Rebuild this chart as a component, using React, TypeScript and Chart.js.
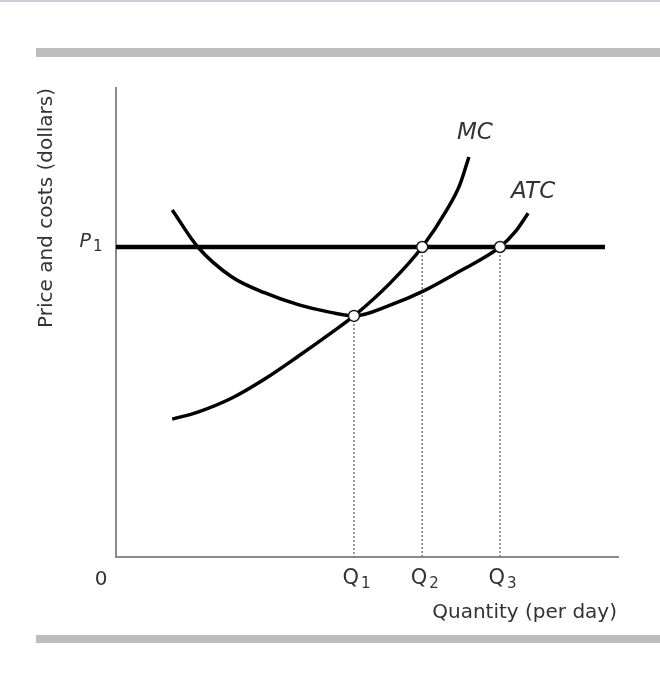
import React, { useEffect, useRef } from "react";
import { Chart, registerables } from "chart.js";

Chart.register(...registerables);

// ---- Data ----
const mcQuantity = [11.2, 16.3, 23.1, 29.7, 36.3, 43.0, 47.4, 54.6, 61.0, 65.9, 68.5, 70.3];
const mcCost = [29.4, 30.9, 33.9, 38.0, 42.8, 47.9, 51.4, 58.4, 66.1, 74.0, 79.4, 85.3];

const atcQuantity = [11.2, 16.3, 23.1, 29.7, 36.3, 43.0, 47.4, 54.6, 61.2, 67.9, 76.5, 79.5, 82.1];
const atcCost = [74.0, 66.1, 59.7, 56.3, 53.8, 52.1, 51.4, 53.7, 56.7, 60.6, 66.1, 69.3, 73.3];

const priceP1 = 66.1;
const priceLineQuantity = [0, 97.4];

const markerNames = ["Q", "Q", "Q"];
const markerSubs = ["1", "2", "3"];
const markerQuantity = [47.4, 61.0, 76.5];
const markerCost = [51.4, 66.1, 66.1];

const xTitle = "Quantity (per day)";
const yTitle = "Price and costs (dollars)";
const originLabel = "0";
const priceLabel = "P";
const priceSub = "1";
const mcLabel = "MC";
const atcLabel = "ATC";

const FONT = '"DejaVu Sans", sans-serif';
const TEXT = "#333333";

const pts = (xs: number[], ys: number[]) => xs.map((x, i) => ({ x, y: ys[i] }));

const decorPlugin = {
  id: "decor",
  beforeDraw(chart: any) {
    const { ctx, width, height } = chart;
    ctx.save();
    ctx.fillStyle = "#ffffff";
    ctx.fillRect(0, 0, width, height);
    ctx.fillStyle = "#cbcfda";
    ctx.fillRect(0, 0, width, 2);
    ctx.fillStyle = "#bdbdbd";
    ctx.fillRect(36, 48, width - 36, 9);
    ctx.fillRect(36, 635, width - 36, 8);
    ctx.restore();
  },
  afterDraw(chart: any) {
    const { ctx, chartArea } = chart;
    const xs = chart.scales.x;
    const ys = chart.scales.y;
    ctx.save();
    ctx.fillStyle = TEXT;

    // y axis title (rotated)
    ctx.save();
    ctx.translate(47, chartArea.top);
    ctx.rotate(-Math.PI / 2);
    ctx.font = `20px ${FONT}`;
    ctx.textAlign = "right";
    ctx.textBaseline = "middle";
    ctx.fillText(yTitle, 0, 0);
    ctx.restore();

    // x axis title
    ctx.font = `20px ${FONT}`;
    ctx.textAlign = "right";
    ctx.textBaseline = "middle";
    ctx.fillText(xTitle, chartArea.right - 1, 613);

    // origin
    ctx.textAlign = "center";
    ctx.font = `20px ${FONT}`;
    ctx.fillText(originLabel, chartArea.left - 15, 580);

    // Q labels
    markerQuantity.forEach((q, i) => {
      const px = xs.getPixelForValue(q);
      ctx.font = `21px ${FONT}`;
      ctx.textAlign = "right";
      ctx.textBaseline = "middle";
      ctx.fillText(markerNames[i], px + 5, 579);
      ctx.font = `15px ${FONT}`;
      ctx.textAlign = "left";
      ctx.fillText(markerSubs[i], px + 7, 584);
    });

    // P1 label
    const py = ys.getPixelForValue(priceP1);
    ctx.font = `italic 19px ${FONT}`;
    ctx.textAlign = "right";
    ctx.textBaseline = "middle";
    ctx.fillText(priceLabel, chartArea.left - 25, py - 5);
    ctx.font = `15px ${FONT}`;
    ctx.textAlign = "left";
    ctx.fillText(priceSub, chartArea.left - 23, py);

    // curve labels
    const mcEndX = xs.getPixelForValue(mcQuantity[mcQuantity.length - 1]);
    const mcEndY = ys.getPixelForValue(mcCost[mcCost.length - 1]);
    ctx.font = `italic 23px ${FONT}`;
    ctx.textAlign = "center";
    ctx.textBaseline = "middle";
    ctx.fillText(mcLabel, mcEndX + 6, mcEndY - 24);

    const atcEndX = xs.getPixelForValue(atcQuantity[atcQuantity.length - 1]);
    const atcEndY = ys.getPixelForValue(atcCost[atcCost.length - 1]);
    ctx.fillText(atcLabel, atcEndX + 5, atcEndY - 21);

    ctx.restore();
  },
};

export default function App() {
  const canvasRef = useRef<HTMLCanvasElement | null>(null);

  useEffect(() => {
    const canvas = canvasRef.current;
    if (!canvas) return;

    const dropLines = markerQuantity.map((q, i) => ({
      type: "line" as const,
      data: [
        { x: q, y: markerCost[i] },
        { x: q, y: 0 },
      ],
      borderColor: "#7a7a7a",
      borderWidth: 1.5,
      borderDash: [2, 2],
      pointRadius: 0,
      fill: false,
      order: 3,
    }));

    const chart = new Chart(canvas, {
      type: "line",
      data: {
        datasets: [
          ...dropLines,
          {
            data: pts(priceLineQuantity, priceLineQuantity.map(() => priceP1)),
            borderColor: "#000000",
            borderWidth: 4.5,
            pointRadius: 0,
            fill: false,
            order: 2,
          },
          {
            data: pts(mcQuantity, mcCost),
            borderColor: "#000000",
            borderWidth: 3.5,
            pointRadius: 0,
            fill: false,
            cubicInterpolationMode: "monotone",
            order: 2,
          },
          {
            data: pts(atcQuantity, atcCost),
            borderColor: "#000000",
            borderWidth: 3.5,
            pointRadius: 0,
            fill: false,
            cubicInterpolationMode: "monotone",
            order: 2,
          },
          {
            data: pts(markerQuantity, markerCost),
            showLine: false,
            pointRadius: 5.5,
            pointBackgroundColor: "#ffffff",
            pointBorderColor: "#1a1a1a",
            pointBorderWidth: 1.5,
            order: 0,
          },
        ] as any,
      },
      options: {
        animation: false,
        responsive: false,
        maintainAspectRatio: false,
        events: [],
        layout: { padding: { left: 116, right: 42, top: 88, bottom: 125 } },
        plugins: {
          legend: { display: false },
          tooltip: { enabled: false },
        },
        scales: {
          x: {
            type: "linear",
            min: 0,
            max: 100,
            grid: { display: false, drawTicks: false },
            border: { display: true, color: "#8a8a8a", width: 2 },
            ticks: { display: false },
            afterFit: (s: any) => {
              s.height = 0;
            },
          },
          y: {
            type: "linear",
            min: 0,
            max: 100,
            grid: { display: false, drawTicks: false },
            border: { display: true, color: "#8a8a8a", width: 2 },
            ticks: { display: false },
            afterFit: (s: any) => {
              s.width = 0;
            },
          },
        },
      } as any,
      plugins: [decorPlugin],
    });

    return () => {
      chart.destroy();
    };
  }, []);

  return (
    <div style={{ position: "absolute", left: 0, top: 0, width: 660, height: 682, background: "#fff" }}>
      <canvas ref={canvasRef} width={660} height={682} style={{ display: "block" }} />
    </div>
  );
}
